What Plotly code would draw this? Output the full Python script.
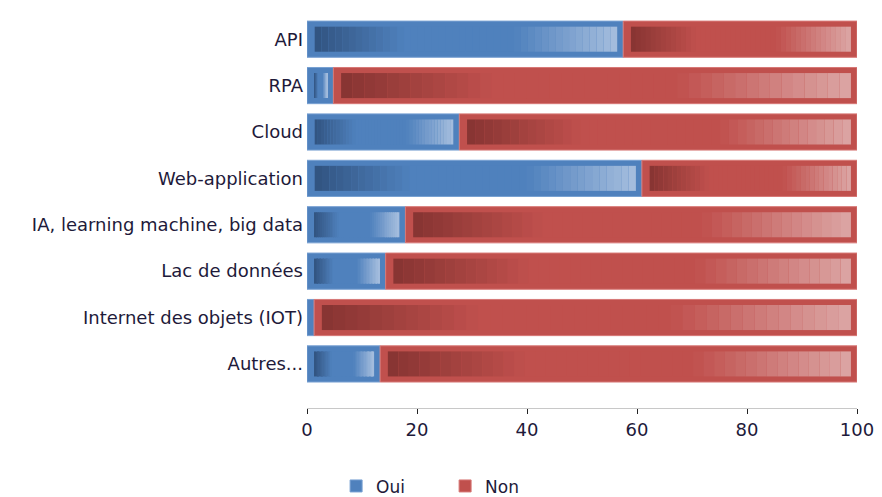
import plotly.graph_objects as go

categories = ["API", "RPA", "Cloud", "Web-application", "IA, learning machine, big data",
              "Lac de données", "Internet des objets (IOT)", "Autres..."]
oui = [57.5, 4.8, 27.7, 60.9, 17.9, 14.3, 1.3, 13.3]
non = [100 - v for v in oui]
series_names = ["Oui", "Non"]
x_ticks = [0, 20, 40, 60, 80, 100]

BLUE = dict(mid=(79, 129, 189), dark=(49, 83, 128), light=(166, 190, 222))
RED = dict(mid=(192, 80, 77), dark=(134, 52, 50), light=(220, 166, 165))

def mix(a, b, t):
    return tuple(int(round(a[i] + (b[i] - a[i]) * t)) for i in range(3))

def grad(pal, t):
    if t < 0.30:
        return mix(pal["dark"], pal["mid"], t / 0.30)
    if t < 0.66:
        return pal["mid"]
    return mix(pal["mid"], pal["light"], (t - 0.66) / 0.34)

def rgb(c):
    return "rgb(%d,%d,%d)" % c

cats = categories[::-1]
oui_r = oui[::-1]
non_r = non[::-1]

fig = go.Figure()
N = 44
inset_l, inset_r = 1.4, 1.1
for name, vals, bases, pal, edge in [
    (series_names[0], oui_r, [0] * len(oui_r), BLUE, "rgb(120,160,210)"),
    (series_names[1], non_r, oui_r, RED, "rgb(215,120,118)"),
]:
    fig.add_trace(go.Bar(
        y=cats, x=vals, base=bases, orientation="h", name=name,
        width=0.78, marker=dict(color=rgb(pal["mid"]), line=dict(color=edge, width=1)),
        showlegend=True, hoverinfo="skip"))
    lens = [max(v - inset_l - inset_r, 0) for v in vals]
    starts = [b + inset_l for b in bases]
    for k in range(N):
        t = (k + 0.5) / N
        fig.add_trace(go.Bar(
            y=cats,
            x=[L / N for L in lens],
            base=[s + L * k / N for s, L in zip(starts, lens)],
            orientation="h", width=0.54,
            marker=dict(color=rgb(grad(pal, t)), line=dict(width=0)),
            showlegend=False, hoverinfo="skip"))

fig.update_layout(
    barmode="overlay",
    width=882, height=497,
    margin=dict(l=299, r=33, t=8, b=97, autoexpand=False),
    paper_bgcolor="white", plot_bgcolor="white",
    font=dict(family="DejaVu Sans", color="#1e1a3a"),
    xaxis=dict(range=[0, 100], tickvals=x_ticks, ticks="outside", ticklen=5,
               tickcolor="#222", showgrid=False, zeroline=False, showline=True,
               linecolor="#c8c8c8", linewidth=1, tickfont=dict(size=18, color="#1e1a3a"),
               tickangle=0, automargin=False, fixedrange=True),
    yaxis=dict(categoryorder="array", categoryarray=cats, range=[-0.95, 7.5],
               showgrid=False, zeroline=False, showline=False, ticks="",
               tickfont=dict(size=18, color="#1e1a3a"), ticklabelstandoff=3,
               automargin=False),
    legend=dict(orientation="h", xref="container", x=0.372, xanchor="left",
                y=-0.2, yanchor="middle", font=dict(size=17, color="#1e1a3a"),
                itemwidth=30, entrywidth=64, entrywidthmode="pixels",
                traceorder="normal"),
    bargap=0.2,
)

fig.write_html("out.html")
